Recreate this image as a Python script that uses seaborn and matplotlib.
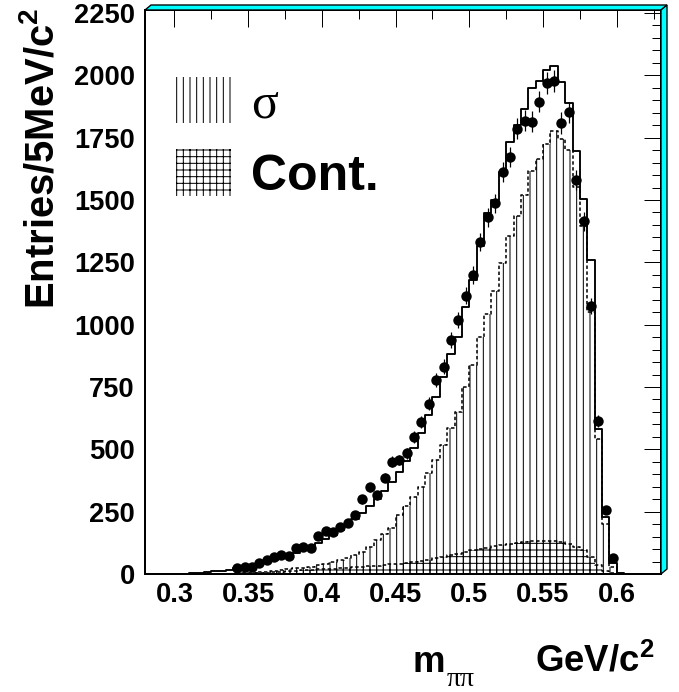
import numpy as np
import matplotlib
matplotlib.use("Agg")
import matplotlib.pyplot as plt
from matplotlib.patches import Patch, Polygon
from matplotlib.ticker import MultipleLocator, FormatStrFormatter
import seaborn as sns

# 5 MeV bins from 0.300 to 0.605 GeV/c^2
BIN_WIDTH = 0.005
FIRST_EDGE = 0.300
N_BINS = 61

# total fit (solid histogram), one value per bin
total_fit = [
    1, 2, 4, 6, 8, 11, 14, 18,
    23, 28, 34, 40, 47, 55, 64, 74,
    85, 96, 109, 123, 139, 156, 175, 196,
    219, 244, 271, 301, 334, 370, 410, 452,
    505, 565, 638, 708, 792, 883, 950, 1070,
    1180, 1314, 1447, 1501, 1614, 1731, 1802, 1865,
    1949, 1976, 2020, 2039, 1972, 1891, 1697, 1504,
    1260, 582, 230, 43, 6,
]

# sigma component (vertical hatch)
sigma_fit = [
    0, 0, 0, 0, 0, 0, 1, 1,
    2, 4, 6, 8, 10, 13, 16, 19,
    23, 26, 30, 35, 41, 48, 56, 65,
    76, 90, 110, 136, 160, 185, 237, 272,
    308, 350, 404, 457, 518, 585, 651, 749,
    839, 952, 1042, 1136, 1247, 1354, 1437, 1521,
    1618, 1664, 1726, 1775, 1744, 1701, 1554, 1394,
    1050, 540, 200, 30, 0,
]

# continuum component (grid hatch)
cont_fit = [
    0, 0, 0, 1, 1, 1, 1, 2,
    2, 3, 4, 5, 6, 8, 10, 12,
    13, 15, 17, 19, 20, 22, 24, 26,
    28, 30, 32, 34, 36, 39, 42, 45,
    49, 53, 58, 64, 70, 76, 82, 88,
    95, 100, 105, 112, 117, 122, 126, 129,
    131, 132, 132, 131, 127, 120, 108, 96,
    70, 36, 14, 3, 0,
]

# data points, first one in the 0.3425 bin
DATA_FIRST_BIN = 8
data_counts = [
    23, 29, 29, 43, 56, 67, 76, 73,
    103, 110, 103, 152, 174, 170, 190, 206,
    237, 300, 348, 316, 387, 451, 457, 484,
    550, 610, 682, 778, 832, 939, 1017, 1116,
    1199, 1330, 1430, 1486, 1613, 1673, 1785, 1818,
    1814, 1895, 1968, 1976, 1809, 1851, 1580, 1415,
    1075, 614, 257, 65,
]

edges = FIRST_EDGE + BIN_WIDTH * np.arange(N_BINS + 1)
centers = edges[:-1] + BIN_WIDTH / 2
bin_list = edges.tolist()
data_x = centers[DATA_FIRST_BIN:DATA_FIRST_BIN + len(data_counts)]
data_y = np.array(data_counts, dtype=float)

DPI = 80
sns.set_style("white")
plt.rcParams.update({
    "font.family": ["Liberation Sans", "DejaVu Sans"],
    "font.weight": "bold",
    "text.color": "black",
    "axes.labelcolor": "black",
    "xtick.color": "black",
    "ytick.color": "black",
    "mathtext.fontset": "custom",
    "mathtext.rm": "Liberation Sans:bold",
    "mathtext.bf": "Liberation Sans:bold",
    "mathtext.it": "Liberation Sans:bold:italic",
    "hatch.color": "black",
    "hatch.linewidth": 0.9,
})

fig = plt.figure(figsize=(679 / DPI, 692 / DPI), dpi=DPI)
ax = fig.add_axes([145 / 679, 118 / 692, 516 / 679, 564 / 692])

dash = (0, (2.2, 1.6))
sns.histplot(x=centers, weights=sigma_fit, bins=bin_list, element="step", fill=True,
             color="black", facecolor="none", edgecolor="black", hatch="||",
             linestyle=dash, linewidth=1.4, ax=ax)
sns.histplot(x=centers, weights=cont_fit, bins=bin_list, element="step", fill=True,
             color="black", facecolor="none", edgecolor="black", hatch="++",
             linestyle=dash, linewidth=1.4, ax=ax)
sns.histplot(x=centers, weights=total_fit, bins=bin_list, element="step", fill=False,
             color="black", linewidth=1.7, ax=ax)

ax.errorbar(data_x, data_y, yerr=np.sqrt(data_y), fmt="none",
            ecolor="black", elinewidth=1.1, capsize=0, zorder=5)
sns.scatterplot(x=data_x, y=data_y, color="black", s=88, linewidth=0,
                zorder=6, ax=ax)

ax.set_xlim(0.28, 0.63)
ax.set_ylim(0, 2262)
ax.xaxis.set_major_locator(MultipleLocator(0.05))
ax.xaxis.set_minor_locator(MultipleLocator(0.025))
ax.xaxis.set_major_formatter(FormatStrFormatter("%g"))
ax.yaxis.set_major_locator(MultipleLocator(250))
ax.yaxis.set_minor_locator(MultipleLocator(50))
ax.tick_params(which="both", direction="in", top=True, right=True,
               color="black", width=0.9, labelsize=24.5, labelcolor="black")
ax.tick_params(which="major", length=15.5)
ax.tick_params(which="minor", length=8)
ax.tick_params(axis="y", pad=9)
ax.tick_params(axis="x", pad=7)
for sp in ax.spines.values():
    sp.set_linewidth(1.8)
    sp.set_color("black")

# ROOT-style cyan frame shadow on top and right
dx, dy = 6 / 516, 5 / 564
for pts in ([(0, 1), (dx, 1 + dy), (1 + dx, 1 + dy), (1, 1)],
            [(1, 1), (1 + dx, 1 + dy), (1 + dx, dy), (1, 0)]):
    ax.add_patch(Polygon(pts, closed=True, transform=ax.transAxes,
                         facecolor="#00ffff", edgecolor="black",
                         linewidth=1.2, clip_on=False, zorder=10))

ax.set_xlabel("")
ax.set_ylabel(r"Entries/5MeV/c$^{2}$", loc="top", fontsize=36, fontweight="bold")
ax.yaxis.set_label_coords(-0.161, 1.005)

fig.text(413 / 679, 1 - 672 / 692, "m", fontsize=33, fontweight="bold",
         ha="left", va="baseline")
fig.text(447 / 679, 1 - 686 / 692, "ππ", fontsize=25, fontweight="normal",
         family=["Liberation Serif", "DejaVu Serif"], ha="left", va="baseline")
fig.text(535 / 679, 1 - 672 / 692, r"GeV/c$^{2}$", fontsize=33,
         fontweight="bold", ha="left", va="baseline")

handles = [
    Patch(facecolor="none", edgecolor="black", hatch="||", linewidth=0),
    Patch(facecolor="none", edgecolor="black", hatch="++", linewidth=0),
]
leg = ax.legend(handles=handles, labels=["σ", "Cont."], loc="upper left",
                bbox_to_anchor=(0.06, 0.881), frameon=False, fontsize=45,
                handlelength=1.1, handleheight=1.05, handletextpad=0.4,
                labelspacing=0.42, borderpad=0, borderaxespad=0)
texts = leg.get_texts()
texts[0].set_fontfamily(["Liberation Serif", "DejaVu Serif"])
texts[0].set_fontweight("normal")
texts[1].set_fontweight("bold")

fig.savefig("out.png", dpi=DPI)
